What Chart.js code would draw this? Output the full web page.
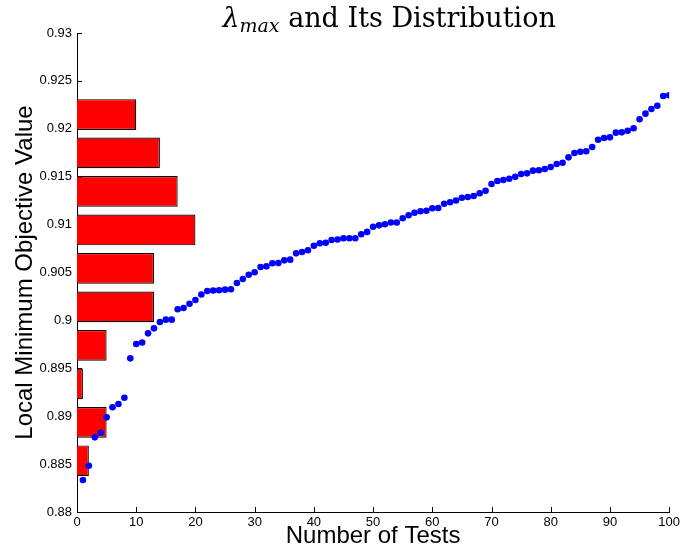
<!DOCTYPE html>
<html>
<head>
<meta charset="utf-8">
<script src="https://cdn.jsdelivr.net/npm/chart.js@4/dist/chart.umd.min.js"></script>
<style>
  body { margin: 0; background: #fff; }
  #wrap { width: 683px; height: 552px; }
</style>
</head>
<body>
<div id="wrap"><canvas id="chart" width="683" height="552"></canvas></div>
<script>
// sorted local minimum value of each test run (test number = position + 1)
const objectiveValues = [
  0.88334, 0.88483, 0.88779, 0.88828, 0.88988, 0.89093, 0.89127, 0.89193, 0.89604, 0.89754,
  0.89770, 0.89865, 0.89917, 0.89983, 0.90008, 0.90008, 0.90116, 0.90129, 0.90174, 0.90213,
  0.90270, 0.90307, 0.90312, 0.90314, 0.90321, 0.90325, 0.90390, 0.90432, 0.90477, 0.90502,
  0.90557, 0.90564, 0.90596, 0.90599, 0.90627, 0.90634, 0.90700, 0.90714, 0.90732, 0.90780,
  0.90805, 0.90811, 0.90839, 0.90845, 0.90857, 0.90857, 0.90857, 0.90899, 0.90924, 0.90978,
  0.90992, 0.91003, 0.91022, 0.91022, 0.91066, 0.91097, 0.91124, 0.91139, 0.91145, 0.91170,
  0.91173, 0.91218, 0.91233, 0.91252, 0.91280, 0.91288, 0.91299, 0.91327, 0.91354, 0.91424,
  0.91455, 0.91466, 0.91479, 0.91500, 0.91528, 0.91535, 0.91563, 0.91567, 0.91580, 0.91601,
  0.91633, 0.91646, 0.91702, 0.91747, 0.91761, 0.91765, 0.91810, 0.91886, 0.91904, 0.91911,
  0.91960, 0.91963, 0.91980, 0.92005, 0.92099, 0.92158, 0.92207, 0.92241, 0.92342, 0.92350
];

// histogram of the values above (horizontal bars)
const binCenters = [0.88535, 0.88936, 0.89338, 0.89740, 0.90141, 0.90543, 0.90944, 0.91346, 0.91748, 0.92149];
const binCounts  = [2, 5, 1, 5, 13, 13, 20, 17, 14, 10];

const xTickValues = [0, 10, 20, 30, 40, 50, 60, 70, 80, 90, 100];
const yTickValues = [0.88, 0.885, 0.89, 0.895, 0.9, 0.905, 0.91, 0.915, 0.92, 0.925, 0.93];

const titleParts = [
  { text: 'λ', style: 'italic', size: 27, dy: 0 },
  { text: 'max', style: 'italic', size: 19, dy: 5 },
  { text: ' and Its Distribution', style: 'normal', size: 27, dy: 0 }
];

const AXIS_FONT = '"Liberation Sans", Arial, sans-serif';

// matlab style: tick marks point into the axes
const inwardTicks = {
  id: 'inwardTicks',
  beforeDatasetsDraw(chart) {
    const { ctx, chartArea: a, scales } = chart;
    ctx.save();
    ctx.strokeStyle = '#000';
    ctx.lineWidth = 1;
    ctx.beginPath();
    xTickValues.forEach(v => {
      const px = Math.round(scales.x.getPixelForValue(v)) + 0.5;
      ctx.moveTo(px, a.bottom); ctx.lineTo(px, a.bottom - 5);
    });
    yTickValues.forEach(v => {
      const py = Math.round(scales.y.getPixelForValue(v)) + 0.5;
      ctx.moveTo(a.left, py); ctx.lineTo(a.left + 5, py);
    });
    ctx.stroke();
    ctx.restore();
  }
};

const texTitle = {
  id: 'texTitle',
  afterDraw(chart) {
    const { ctx, chartArea: a } = chart;
    ctx.save();
    ctx.fillStyle = '#000';
    ctx.textBaseline = 'alphabetic';
    const fontOf = p => `${p.style} ${p.size}px "DejaVu Serif", serif`;
    let total = 0;
    titleParts.forEach(p => { ctx.font = fontOf(p); total += ctx.measureText(p.text).width; });
    let x = (a.left + a.right) / 2 + 16 - total / 2;
    titleParts.forEach(p => {
      ctx.font = fontOf(p);
      ctx.fillText(p.text, x, 27 + p.dy);
      x += ctx.measureText(p.text).width;
    });
    ctx.restore();
  }
};

new Chart(document.getElementById('chart'), {
  type: 'scatter',
  data: {
    datasets: [
      {
        type: 'scatter',
        order: 0,
        data: objectiveValues.map((v, i) => ({ x: i + 1, y: v })),
        backgroundColor: '#0000ff',
        borderWidth: 0,
        pointRadius: 3.3
      },
      {
        type: 'bar',
        order: 1,
        indexAxis: 'y',
        data: binCounts.map((c, i) => ({ x: c, y: binCenters[i] })),
        backgroundColor: '#ff0000',
        borderColor: '#000',
        borderWidth: 1.2,
        barPercentage: 0.8,
        categoryPercentage: 1
      }
    ]
  },
  options: {
    responsive: false,
    animation: false,
    layout: { padding: { top: 33, right: 7, left: 0, bottom: 0 } },
    plugins: { legend: { display: false }, tooltip: { enabled: false } },
    scales: {
      x: {
        type: 'linear',
        min: 0, max: 100,
        offset: false,
        grid: { display: false, drawTicks: false },
        border: { display: true, color: '#000', width: 1 },
        afterBuildTicks: s => { s.ticks = xTickValues.map(v => ({ value: v })); },
        afterFit: s => { s.height = 40; },
        ticks: { color: '#000', padding: 3, font: { family: AXIS_FONT, size: 13 }, maxRotation: 0 },
        title: { display: true, text: 'Number of Tests', color: '#000', padding: { bottom: 1 },
                 font: { family: AXIS_FONT, size: 24 } }
      },
      y: {
        type: 'linear',
        min: 0.88, max: 0.93,
        offset: false,
        grid: { display: false, drawTicks: false },
        border: { display: true, color: '#000', width: 1 },
        afterBuildTicks: s => { s.ticks = yTickValues.map(v => ({ value: v })); },
        afterFit: s => { s.width = 77; },
        ticks: { color: '#000', padding: 5, font: { family: AXIS_FONT, size: 13 },
                 callback: v => String(v) },
        title: { display: true, text: 'Local Minimum Objective Value', color: '#000', padding: { top: 11 },
                 font: { family: AXIS_FONT, size: 24 } }
      }
    }
  },
  plugins: [inwardTicks, texTitle]
});
</script>
</body>
</html>
